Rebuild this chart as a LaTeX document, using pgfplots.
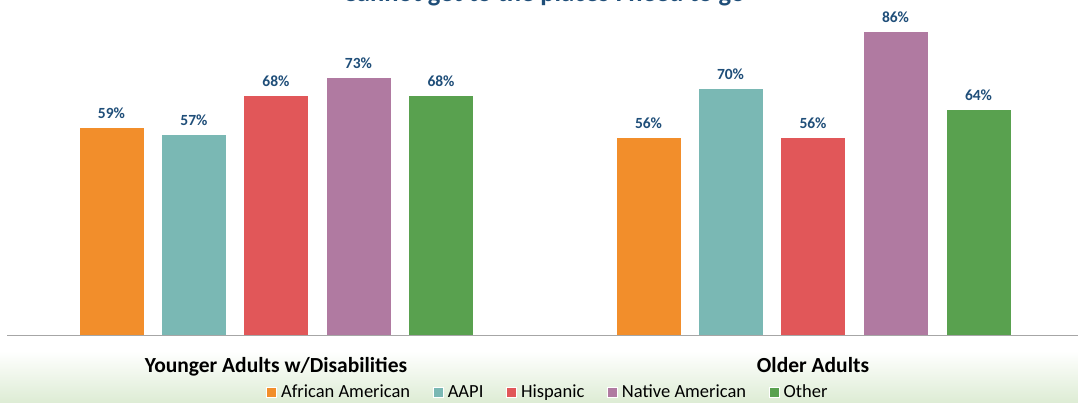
\documentclass[border=0pt]{standalone}
\usepackage{pgfplots}
\pgfplotsset{compat=1.18}
\usepackage{fontspec}
\setmainfont{Carlito}
\definecolor{cOrange}{HTML}{F28E2B}
\definecolor{cTeal}{HTML}{7AB8B4}
\definecolor{cRed}{HTML}{E15759}
\definecolor{cPurple}{HTML}{B07AA1}
\definecolor{cGreen}{HTML}{59A14F}
\definecolor{cLabel}{HTML}{1F4E79}
\definecolor{cBg}{HTML}{DDECD4}
\begin{document}
\begin{tikzpicture}[x=1pt,y=1pt]
\clip (0,0) rectangle (1078,403);
\fill[white] (0,0) rectangle (1078,403);
\shade[top color=white, bottom color=cBg] (0,0) rectangle (1078,52);
\node[font=\bfseries\fontsize{26.5}{30}\selectfont, text=cLabel, anchor=base] at (544,401.5) {Cannot get to the places I need to go};
\begin{axis}[
  at={(0pt,67pt)}, anchor=south west,
  scale only axis, width=1078pt, height=336pt,
  xmin=0, xmax=1078, ymin=0, ymax=94.9,
  axis lines=none,
  ybar, bar width=65, bar shift=0pt,
  clip=false,
  /pgf/number format/assume math mode=true,
  nodes near coords={\pgfmathprintnumber{\pgfplotspointmeta}\%},
  every node near coord/.append style={font=\bfseries\fontsize{15.5}{17}\selectfont, text=cLabel, yshift=5pt},
  legend style={at={(548pt,-56pt)}, anchor=center, draw=none, fill=none,
    legend columns=-1, font=\fontsize{18.5}{20}\selectfont,
    /tikz/every odd column/.append style={column sep=2pt},
    /tikz/every even column/.append style={column sep=21pt}},
  legend image code/.code={\fill[#1] (0pt,-5pt) rectangle (10pt,5pt);},
]
\addplot[fill=cOrange, draw=white, line width=0.6pt] coordinates {(111.5,59) (648.5,56)};
\addlegendentry{African American}
\addplot[fill=cTeal, draw=white, line width=0.6pt] coordinates {(194,57) (730.5,70)};
\addlegendentry{AAPI}
\addplot[fill=cRed, draw=white, line width=0.6pt] coordinates {(276,68) (813,56)};
\addlegendentry{Hispanic}
\addplot[fill=cPurple, draw=white, line width=0.6pt] coordinates {(358.5,73) (895.5,86)};
\addlegendentry{Native American}
\addplot[fill=cGreen, draw=white, line width=0.6pt] coordinates {(441,68) (978.5,64)};
\addlegendentry{Other}
\draw[gray!70, line width=1pt] (axis cs:7,0) -- (axis cs:1078,0);
\node[font=\bfseries\fontsize{21.5}{24}\selectfont, anchor=base] at (axis cs:276,-10.2) {Younger Adults w/Disabilities};
\node[font=\bfseries\fontsize{21.5}{24}\selectfont, anchor=base] at (axis cs:813,-10.2) {Older Adults};
\end{axis}
\end{tikzpicture}
\end{document}
